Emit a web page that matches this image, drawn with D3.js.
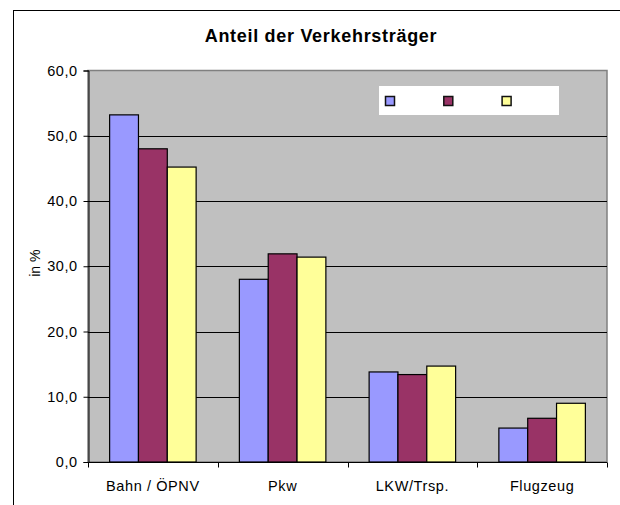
<!DOCTYPE html>
<html>
<head>
<meta charset="utf-8">
<script src="https://cdn.jsdelivr.net/npm/d3@7"></script>
<style>
  html, body { margin: 0; padding: 0; background: #fff; }
  svg { display: block; font-family: "Liberation Sans", Arial, sans-serif; }
</style>
</head>
<body>
<svg id="chart" width="620" height="505"></svg>
<script>
const title = "Anteil der Verkehrsträger";
const yAxisLabel = "in %";
const categories = ["Bahn / ÖPNV", "Pkw", "LKW/Trsp.", "Flugzeug"];
const seriesNames = ["", "", ""];
const seriesA = [53.2, 28.0, 13.8, 5.2];
const seriesB = [48.0, 31.9, 13.4, 6.7];
const seriesC = [45.2, 31.4, 14.7, 9.0];
const seriesColors = ["#9999FF", "#993366", "#FFFF99"];
const yTicks = [0, 10, 20, 30, 40, 50, 60];

const allSeries = [seriesA, seriesB, seriesC];
const svg = d3.select("#chart");

// outer chart frame (cropped on right/bottom)
svg.append("rect").attr("x", 13.5).attr("y", 10.5).attr("width", 700).attr("height", 600)
  .attr("fill", "#fff").attr("stroke", "#000").attr("stroke-width", 1);

const plot = { left: 88, right: 607, top: 70.5, bottom: 462 };

const x0 = d3.scaleBand().domain(categories).range([plot.left, plot.right]).paddingInner(0).paddingOuter(0);
const barW = x0.bandwidth() / 4.5;
const x1 = d3.scaleBand().domain(d3.range(allSeries.length))
  .range([barW * 0.75, barW * 0.75 + barW * 3]).padding(0);
const y = d3.scaleLinear().domain([0, 60]).range([plot.bottom, plot.top]);

// plot area
svg.append("rect").attr("x", plot.left).attr("y", plot.top)
  .attr("width", plot.right - plot.left).attr("height", plot.bottom - plot.top)
  .attr("fill", "#C0C0C0").attr("stroke", "#808080").attr("stroke-width", 1.5);

// gridlines
svg.append("g").selectAll("line").data(yTicks.filter(t => t > 0 && t < 60)).join("line")
  .attr("x1", plot.left).attr("x2", plot.right)
  .attr("y1", d => Math.round(y(d)) + 0.5).attr("y2", d => Math.round(y(d)) + 0.5)
  .attr("stroke", "#000").attr("stroke-width", 1);

// bars
const groups = svg.append("g").selectAll("g").data(categories).join("g")
  .attr("transform", d => `translate(${x0(d)},0)`);
groups.selectAll("rect").data((c, i) => allSeries.map((s, k) => ({ k, v: s[i] }))).join("rect")
  .attr("x", d => x1(d.k)).attr("width", x1.bandwidth())
  .attr("y", d => y(d.v)).attr("height", d => y(0) - y(d.v))
  .attr("fill", d => seriesColors[d.k]).attr("stroke", "#000").attr("stroke-width", 1.2);

// y axis
const yAxis = d3.axisLeft(y).tickValues(yTicks).tickSize(5).tickPadding(6)
  .tickFormat(d => d3.format(".1f")(d).replace(".", ","));
const gy = svg.append("g").attr("transform", `translate(${plot.left + 0.5},0)`).call(yAxis);
gy.selectAll("text").attr("font-size", "14.5px").attr("letter-spacing", "0.5px")
  .attr("fill", "#000").attr("font-family", "Liberation Sans, Arial, sans-serif");
gy.selectAll("line, path").attr("stroke", "#000");

// x axis
const xAxis = d3.axisBottom(x0).tickSize(0).tickPadding(0);
const gx = svg.append("g").attr("transform", `translate(0,${plot.bottom + 0.5})`).call(xAxis);
gx.select("path").attr("stroke", "#000").attr("d", `M${plot.left},0H${plot.right}`);
gx.selectAll("text").attr("y", 28).attr("dy", 0).attr("font-size", "14.5px")
  .attr("letter-spacing", "0.6px").attr("fill", "#000")
  .attr("font-family", "Liberation Sans, Arial, sans-serif");
// category separator ticks
const sepPos = categories.map(c => x0(c)).concat([plot.right]);
gx.append("g").selectAll("line").data(sepPos).join("line")
  .attr("x1", d => Math.round(d) + 0.5).attr("x2", d => Math.round(d) + 0.5)
  .attr("y1", 0).attr("y2", 5).attr("stroke", "#000");

// y label
svg.append("text").attr("transform", `translate(40,${(plot.top + plot.bottom) / 2 - 3}) rotate(-90)`)
  .attr("text-anchor", "middle").attr("font-size", "14px").text(yAxisLabel);

// title
svg.append("text").attr("x", 321).attr("y", 42).attr("text-anchor", "middle")
  .attr("font-size", "18px").attr("font-weight", "bold").attr("letter-spacing", "0.7px")
  .text(title);

// legend
const lg = svg.append("g").attr("transform", "translate(379,86)");
lg.append("rect").attr("width", 180).attr("height", 29).attr("fill", "#fff");
lg.selectAll("g").data(seriesNames).join("g")
  .attr("transform", (d, i) => `translate(${6.5 + i * 58.3},10.5)`)
  .each(function (d, i) {
    const g = d3.select(this);
    g.append("rect").attr("width", 9).attr("height", 9)
      .attr("fill", seriesColors[i]).attr("stroke", "#111").attr("stroke-width", 1.5);
    g.append("text").attr("x", 14).attr("y", 9).attr("font-size", "13px").text(d);
  });
</script>
</body>
</html>
